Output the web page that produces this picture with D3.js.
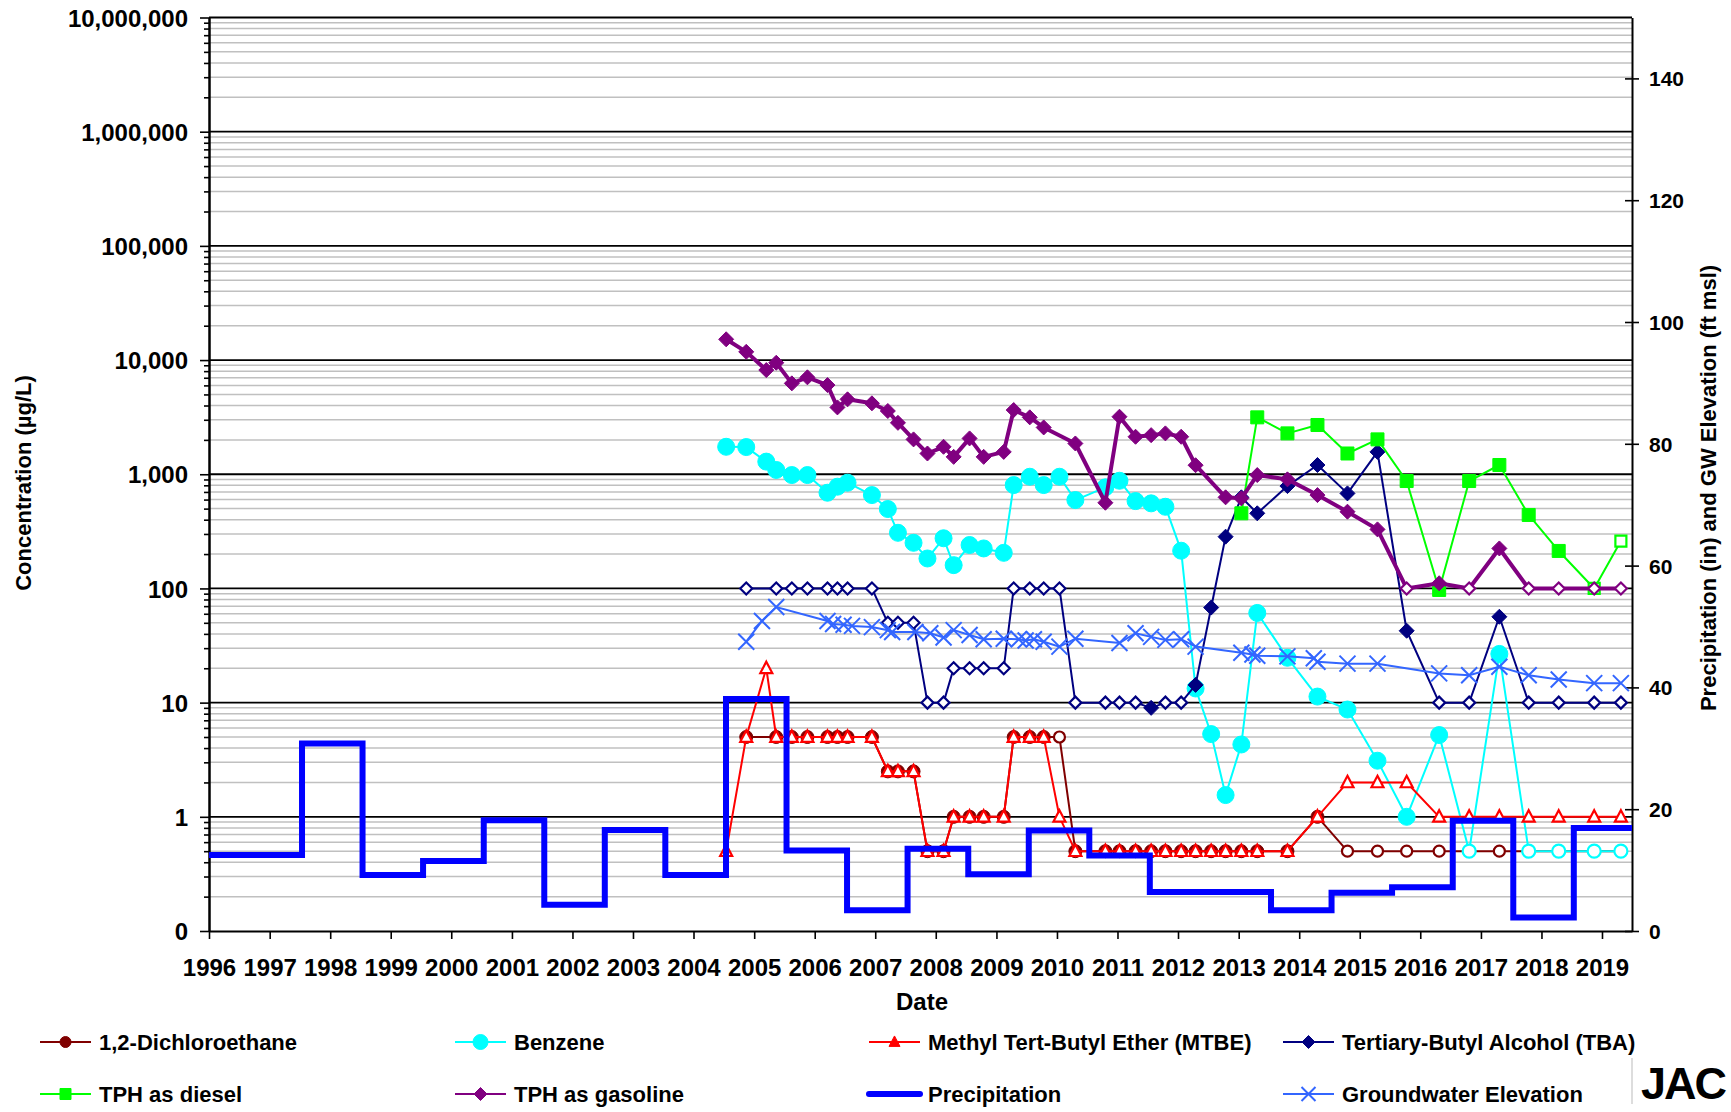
<!DOCTYPE html>
<html>
<head>
<meta charset="utf-8">
<script src="https://cdn.jsdelivr.net/npm/d3@7"></script>
<style>
  body { margin: 0; background: #fff; }
  svg { display: block; }
  text { font-family: Arial, "Liberation Sans", sans-serif; font-weight: bold; fill: #000; }
</style>
</head>
<body>
<svg id="chart" width="1731" height="1112"></svg>
<script>
// lab sampling events (shared by all concentration series)
const sampleDates = [
  '2004-07-16', '2004-11-14', '2005-03-15', '2005-05-14', '2005-08-16', '2005-11-18', '2006-03-19', '2006-05-18', '2006-07-18', '2006-12-12',
  '2007-03-18', '2007-05-18', '2007-08-20', '2007-11-12', '2008-02-17', '2008-04-18', '2008-07-23', '2008-10-16', '2009-02-14', '2009-04-15',
  '2009-07-21', '2009-10-13', '2010-01-16', '2010-04-22', '2010-10-20', '2011-01-13', '2011-04-20', '2011-07-23', '2011-10-17', '2012-01-20',
  '2012-04-16', '2012-07-19', '2012-10-14', '2013-01-17', '2013-04-23', '2013-10-22', '2014-04-21', '2014-10-19', '2015-04-18', '2015-10-11',
  '2016-04-24', '2016-10-22', '2017-04-22', '2017-10-16', '2018-04-15', '2018-11-15', '2019-04-25',
];

// ug/L, '<' = not detected at that reporting limit (hollow marker)
const dichloroethane = [
  null, 5, null, 5, 5, 5, 5, 5, 5, 5,
  2.5, 2.5, 2.5, 0.5, 0.5, 1, 1, 1, 1, 5,
  5, 5, '<5', 0.5, 0.5, 0.5, 0.5, 0.5, 0.5, 0.5,
  0.5, 0.5, 0.5, 0.5, 0.5, 0.5, 1, '<0.5', '<0.5', '<0.5',
  '<0.5', '<0.5', '<0.5', '<0.5', '<0.5', '<0.5', '<0.5',
];
const benzene = [
  1740, 1730, 1290, 1090, 984, 984, 689, 778, 843, 657,
  496, 307, 251, 183, 275, 160, 240, 224, 205, 804,
  951, 804, 951, 594, 768, 877, 582, 556, 519, 214,
  13.3, 5.3, 1.55, 4.3, 61, 24.7, 11.3, 8.7, 3.1, 1.0,
  5.2, '<0.5', 26.7, '<0.5', '<0.5', '<0.5', '<0.5',
];
const mtbe = [
  '<0.5', '<5', '<20', '<5', '<5', '<5', '<5', '<5', '<5', '<5',
  '<2.5', '<2.5', '<2.5', '<0.5', '<0.5', '<1', '<1', '<1', '<1', '<5',
  '<5', '<5', '<1', '<0.5', '<0.5', '<0.5', '<0.5', '<0.5', '<0.5', '<0.5',
  '<0.5', '<0.5', '<0.5', '<0.5', '<0.5', '<0.5', '<1', '<2', '<2', '<2',
  '<1', '<1', '<1', '<1', '<1', '<1', '<1',
];
const tba = [
  null, '<100', null, '<100', '<100', '<100', '<100', '<100', '<100', '<100',
  '<50', '<50', '<50', '<10', '<10', '<20', '<20', '<20', '<20', '<100',
  '<100', '<100', '<100', '<10', '<10', '<10', '<10', 9, '<10', '<10',
  14.3, 68, 284, 628, 455, 788, 1205, 680, 1570, 42.6,
  '<10', '<10', 56.5, '<10', '<10', '<10', '<10',
];
const tphDiesel = [
  null, null, null, null, null, null, null, null, null, null,
  null, null, null, null, null, null, null, null, null, null,
  null, null, null, null, null, null, null, null, null, null,
  null, null, null, 455, 3150, 2280, 2700, 1520, 2020, 872,
  97, 872, 1205, 440, 213, '<100', '<260',
];
const tphGasoline = [
  15200, 11800, 8170, 9470, 6250, 7060, 6040, 3850, 4530, 4180,
  3580, 2820, 2020, 1520, 1740, 1420, 2060, 1420, 1570, 3650,
  3150, 2570, null, 1860, 563, 3190, 2130, 2200, 2280, 2130,
  1200, null, 628, 615, 984, 902, 657, 470, 329, '<100',
  111, '<100', 224, '<100', '<100', '<100', '<100',
];

// rain season totals (in), each starting mid-July
const precipStart = [
  '1996-01-01', '1997-07-15', '1998-07-15', '1999-07-15', '2000-07-15', '2001-07-15', '2002-07-15', '2003-07-15',
  '2004-07-15', '2005-07-15', '2006-07-15', '2007-07-15', '2008-07-15', '2009-07-15', '2010-07-15', '2011-07-15',
  '2012-07-15', '2013-07-15', '2014-07-15', '2015-07-15', '2016-07-15', '2017-07-15', '2018-07-15',
];
const precipInches = [
  12.5, 30.8, 9.2, 11.5, 18.2, 4.3, 16.6, 9.2,
  38.1, 13.2, 3.4, 13.5, 9.3, 16.5, 12.4, 6.4,
  6.4, 3.4, 6.3, 7.2, 18.1, 2.2, 16.9,
];

// groundwater elevation (ft msl)
const gwDates = [
  '2004-11-14', '2005-02-17', '2005-05-14', '2006-03-19', '2006-04-22', '2006-06-24', '2006-08-14', '2006-12-12', '2007-03-18', '2007-04-13',
  '2007-08-31', '2007-11-29', '2008-02-17', '2008-04-18', '2008-07-23', '2008-10-16', '2009-02-14', '2009-05-16', '2009-06-26', '2009-08-15',
  '2009-10-13', '2010-01-16', '2010-04-22', '2011-01-13', '2011-04-20', '2011-07-23', '2011-10-17', '2012-01-20', '2012-04-16', '2013-01-17',
  '2013-03-25', '2013-04-23', '2013-10-22', '2014-03-30', '2014-04-21', '2014-10-19', '2015-04-18', '2016-04-24', '2016-10-22', '2017-04-22',
  '2017-10-16', '2018-04-15', '2018-11-15', '2019-04-25',
];
const gwElevation = [
  47.5, 50.9, 53.2, 50.9, 50.4, 50.3, 50.1, 49.9, 49.4, 49.1,
  49.1, 48.9, 48.2, 49.4, 48.6, 47.9, 48.0, 47.9, 47.7, 47.9,
  47.5, 46.7, 48.0, 47.3, 48.9, 48.3, 47.8, 47.9, 46.7, 45.7,
  45.4, 45.2, 45.1, 44.8, 44.2, 43.9, 43.9, 42.3, 42.0, 43.4,
  42.0, 41.3, 40.7, 40.7,
];

const concTicks = [0.1, 1, 10, 100, 1000, 10000, 100000, 1000000, 10000000];
const rightTicks = [0, 20, 40, 60, 80, 100, 120, 140];

const plot = { left: 209, right: 1632, top: 17.5, bottom: 931 };
const gwColor = '#3366FF';
const precipColor = '#0000FF';

const parseDate = d3.timeParse('%Y-%m-%d');
const x = d3.scaleTime()
  .domain([parseDate('1996-01-01'), parseDate('2019-07-01')])
  .range([plot.left, plot.right]);
const yConc = d3.scaleLog().domain([0.1, 1e7]).range([plot.bottom, plot.top]);
const yRight = d3.scaleLinear().domain([0, 150]).range([plot.bottom, plot.top]);

const svg = d3.select('#chart');

function markerPath(shape, s) {
  switch (shape) {
    case 'circle': return `M${s},0A${s},${s} 0 1,1 ${-s},0A${s},${s} 0 1,1 ${s},0Z`;
    case 'diamond': return `M0,${-s}L${s},0L0,${s}L${-s},0Z`;
    case 'square': return `M${-s},${-s}H${s}V${s}H${-s}Z`;
    case 'triangle': return `M0,${-s * 1.1}L${s},${s * 0.8}L${-s},${s * 0.8}Z`;
    default: return `M${-s},${-s}L${s},${s}M${-s},${s}L${s},${-s}`;
  }
}

const concSeries = [
  { name: '1,2-Dichloroethane', values: dichloroethane, color: '#800000', shape: 'circle', size: 6.5, ndSize: 5.5, width: 2 },
  { name: 'Benzene', values: benzene, color: '#00FFFF', shape: 'circle', size: 8.5, ndSize: 6.5, width: 2 },
  { name: 'Methyl Tert-Butyl Ether (MTBE)', values: mtbe, color: '#FF0000', shape: 'triangle', size: 6.5, ndSize: 6, width: 2 },
  { name: 'Tertiary-Butyl Alcohol (TBA)', values: tba, color: '#000080', shape: 'diamond', size: 7.5, ndSize: 6, width: 2 },
  { name: 'TPH as diesel', values: tphDiesel, color: '#00FF00', shape: 'square', size: 6.5, ndSize: 5.5, width: 2 },
  { name: 'TPH as gasoline', values: tphGasoline, color: '#800080', shape: 'diamond', size: 7.5, ndSize: 6, width: 4 },
];

function drawGrid() {
  const g = svg.append('g').attr('class', 'grid');
  const minor = yConc.ticks().filter(v => !concTicks.includes(v));
  g.selectAll('.minor')
    .data(minor)
    .enter()
    .append('line')
    .attr('class', 'minor')
    .attr('x1', plot.left)
    .attr('x2', plot.right)
    .attr('y1', d => yConc(d))
    .attr('y2', d => yConc(d))
    .attr('stroke', '#c0c0c0')
    .attr('stroke-width', 1.5);
  g.selectAll('.major')
    .data(concTicks.slice(1))
    .enter()
    .append('line')
    .attr('class', 'major')
    .attr('x1', plot.left)
    .attr('x2', plot.right)
    .attr('y1', d => yConc(d))
    .attr('y2', d => yConc(d))
    .attr('stroke', '#000')
    .attr('stroke-width', 1.8);
}

function styleAxis(g, size) {
  g.attr('font-family', null).attr('font-size', null);
  g.select('.domain').attr('stroke', '#000').attr('stroke-width', 2);
  g.selectAll('.tick line').attr('stroke', '#000').attr('stroke-width', 1.6);
  g.selectAll('.tick text').attr('font-size', size).style('font-weight', 'bold');
}

function drawAxes() {
  // minor ticks on the log axis
  svg.append('g')
    .attr('transform', `translate(${plot.left},0)`)
    .call(d3.axisLeft(yConc)
      .tickValues(yConc.ticks().filter(v => !concTicks.includes(v)))
      .tickSize(5).tickSizeOuter(0).tickFormat(''))
    .call(g => styleAxis(g, 24));

  svg.append('g')
    .attr('transform', `translate(${plot.left},0)`)
    .call(d3.axisLeft(yConc).tickValues(concTicks).tickSize(9).tickSizeOuter(0)
      .tickPadding(12).tickFormat(d3.format(',.0f')))
    .call(g => styleAxis(g, 24))
    .call(g => g.selectAll('.tick text').attr('dy', '0.36em'));

  svg.append('g')
    .attr('transform', `translate(${plot.right},0)`)
    .call(d3.axisRight(yRight).tickValues(rightTicks).tickSize(7).tickSizeOuter(0)
      .tickPadding(10).tickFormat(d3.format('d')))
    .call(g => styleAxis(g, 21))
    .call(g => g.selectAll('.tick line').attr('x1', -7))
    .call(g => g.selectAll('.tick text').attr('dy', '0.36em'));

  svg.append('g')
    .attr('transform', `translate(0,${plot.bottom})`)
    .call(d3.axisBottom(x).ticks(d3.timeYear.every(1)).tickSize(8).tickSizeOuter(0)
      .tickPadding(20).tickFormat(d3.timeFormat('%Y')))
    .call(g => styleAxis(g, 24))
    .call(g => g.selectAll('.tick text').attr('dy', '0.71em'));

  svg.append('text')
    .attr('x', 922)
    .attr('y', 1010)
    .attr('text-anchor', 'middle')
    .attr('font-size', 24)
    .text('Date');

  svg.append('text')
    .attr('transform', 'translate(31,483) rotate(-90)')
    .attr('text-anchor', 'middle')
    .attr('font-size', 22)
    .text('Concentration (µg/L)');

  svg.append('text')
    .attr('transform', 'translate(1716,488) rotate(-90)')
    .attr('text-anchor', 'middle')
    .attr('font-size', 22)
    .text('Precipitation (in) and GW Elevation (ft msl)');
}

function toPoints(dates, values) {
  return values
    .map((v, i) => ({ date: parseDate(dates[i]), raw: v }))
    .filter(d => d.raw !== null)
    .map(d => ({
      date: d.date,
      value: +String(d.raw).replace('<', ''),
      nd: String(d.raw).startsWith('<'),
    }));
}

function drawConcSeries(s) {
  const pts = toPoints(sampleDates, s.values);
  const g = svg.append('g').attr('class', 'series');
  g.append('path')
    .datum(pts)
    .attr('fill', 'none')
    .attr('stroke', s.color)
    .attr('stroke-width', s.width)
    .attr('stroke-linejoin', 'round')
    .attr('d', d3.line().x(d => x(d.date)).y(d => yConc(d.value)));
  g.selectAll('.marker')
    .data(pts)
    .enter()
    .append('path')
    .attr('class', 'marker')
    .attr('transform', d => `translate(${x(d.date)},${yConc(d.value)})`)
    .attr('d', d => markerPath(s.shape, d.nd ? s.ndSize : s.size))
    .attr('fill', d => (d.nd ? '#fff' : s.color))
    .attr('stroke', s.color)
    .attr('stroke-width', d => (d.nd ? 2.2 : 1));
}

function drawPrecip() {
  const pts = precipStart.map((d, i) => ({ date: parseDate(d), value: precipInches[i] }));
  pts.push({ date: x.domain()[1], value: precipInches[precipInches.length - 1] });
  svg.append('path')
    .datum(pts)
    .attr('fill', 'none')
    .attr('stroke', precipColor)
    .attr('stroke-width', 6)
    .attr('stroke-linejoin', 'miter')
    .attr('d', d3.line().curve(d3.curveStepAfter).x(d => x(d.date)).y(d => yRight(d.value)));
}

function drawGroundwater() {
  const pts = gwDates.map((d, i) => ({ date: parseDate(d), value: gwElevation[i] }));
  const g = svg.append('g').attr('class', 'gw');
  g.append('path')
    .datum(pts)
    .attr('fill', 'none')
    .attr('stroke', gwColor)
    .attr('stroke-width', 2)
    .attr('d', d3.line().x(d => x(d.date)).y(d => yRight(d.value)));
  g.selectAll('.marker')
    .data(pts)
    .enter()
    .append('path')
    .attr('transform', d => `translate(${x(d.date)},${yRight(d.value)})`)
    .attr('d', markerPath('x', 8))
    .attr('fill', 'none')
    .attr('stroke', gwColor)
    .attr('stroke-width', 2);
}

function drawLegend() {
  const items = [
    ...concSeries.map(s => ({ name: s.name, color: s.color, shape: s.shape, size: s.size - 1, width: 2 })),
    { name: 'Precipitation', color: precipColor, shape: null, width: 6 },
    { name: 'Groundwater Elevation', color: gwColor, shape: 'x', size: 7, width: 2 },
  ];
  const colX = [40, 455, 869, 1283];
  const rowY = [1042, 1094];

  const item = svg.append('g').selectAll('g')
    .data(items)
    .enter()
    .append('g')
    .attr('transform', (d, i) => `translate(${colX[i % 4]},${rowY[Math.floor(i / 4)]})`);

  item.append('line')
    .attr('x1', 0)
    .attr('x2', 51)
    .attr('stroke', d => d.color)
    .attr('stroke-width', d => d.width)
    .attr('stroke-linecap', d => (d.shape ? 'butt' : 'round'));

  item.filter(d => d.shape)
    .append('path')
    .attr('transform', 'translate(25.5,0)')
    .attr('d', d => markerPath(d.shape, d.size))
    .attr('fill', d => (d.shape === 'x' ? 'none' : d.color))
    .attr('stroke', d => d.color)
    .attr('stroke-width', d => (d.shape === 'x' ? 2 : 1));

  item.append('text')
    .attr('x', 59)
    .attr('y', 8)
    .attr('font-size', 22)
    .text(d => d.name);

  // corner logo
  svg.append('line')
    .attr('x1', 1632)
    .attr('x2', 1632)
    .attr('y1', 1058)
    .attr('y2', 1104)
    .attr('stroke', '#bbb')
    .attr('stroke-width', 1);
  svg.append('text')
    .attr('x', 1641)
    .attr('y', 1099)
    .attr('font-size', 45)
    .attr('letter-spacing', -2)
    .style('font-weight', 900)
    .attr('fill', '#111')
    .text('JAC');
}

drawGrid();
drawAxes();
concSeries.forEach(drawConcSeries);
drawPrecip();
drawGroundwater();
drawLegend();
</script>
</body>
</html>
